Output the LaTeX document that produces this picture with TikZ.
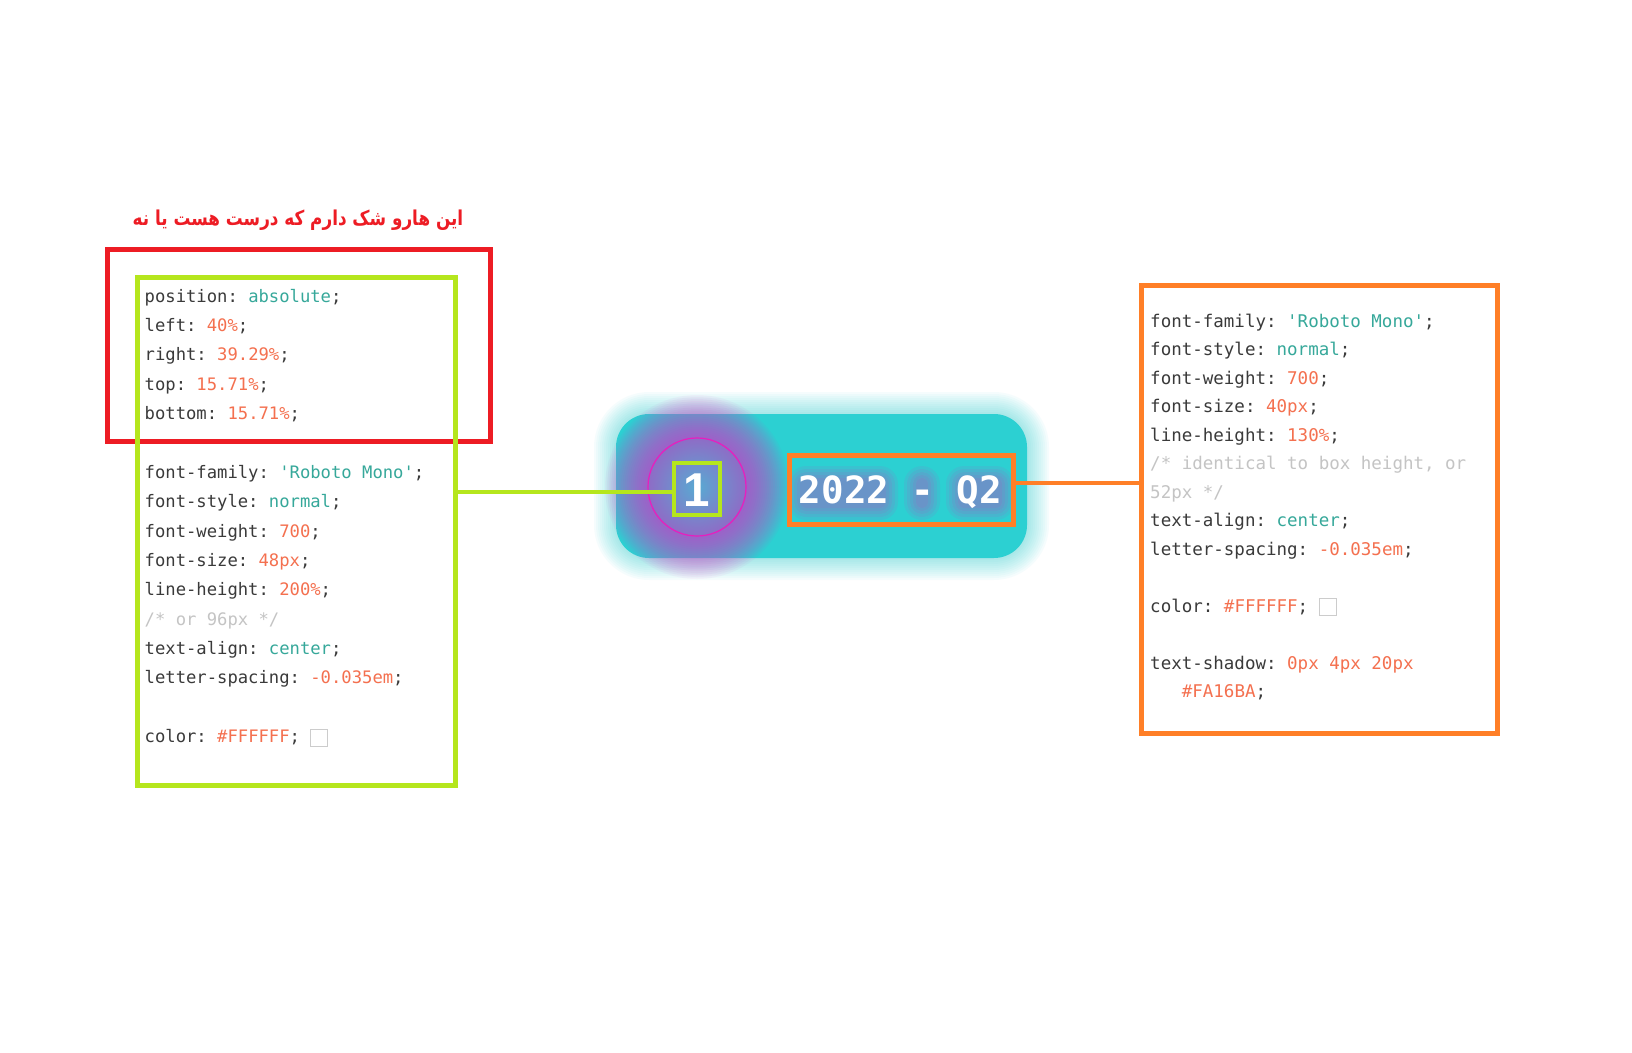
\documentclass[tikz,border=0pt]{standalone}
\usepackage{fontspec}
\setmonofont{DejaVu Sans Mono}
\newfontfamily\farsifont[Script=Arabic]{DejaVu Sans}
\newfontfamily\digitfont{Liberation Sans}
\TeXXeTstate=1
\usetikzlibrary{positioning}
\definecolor{paintred}{HTML}{ED1C24}
\definecolor{paintgreen}{HTML}{B5E61D}
\definecolor{paintorange}{HTML}{FF7F27}
\definecolor{cardteal}{HTML}{2CD0D2}
\definecolor{glowpink}{HTML}{D43CC8}
\definecolor{ringpink}{HTML}{E81EBE}
\definecolor{shadowpink}{HTML}{FA16BA}
\definecolor{badgein}{HTML}{58AAD2}
\definecolor{badgeout}{HTML}{8E6CC6}
\definecolor{cssdark}{HTML}{3A3A3A}
\definecolor{csskey}{HTML}{36A89A}
\definecolor{cssval}{HTML}{F4704F}
\definecolor{cssgray}{HTML}{C4C4C4}
\definecolor{swatchgray}{HTML}{CCCCCC}
\newcommand\cssp[1]{\textcolor{cssdark}{#1}}
\newcommand\cssk[1]{\textcolor{csskey}{#1}}
\newcommand\cssn[1]{\textcolor{cssval}{#1}}
\newcommand\cssc[1]{\textcolor{cssgray}{#1}}
\newcommand\swatch{{\setlength\fboxsep{0pt}\setlength\fboxrule{1pt}\fcolorbox{swatchgray}{white}{\rule[-3pt]{16pt}{0pt}\rule[-3pt]{0pt}{16pt}}}}
\tikzset{
  paintframe/.style={draw, line width=5pt, inner sep=0pt},
  codeL/.style={anchor=base west, inner sep=0pt, font=\ttfamily\fontsize{17.2}{20}\selectfont},
  codeR/.style={anchor=base west, inner sep=0pt, font=\ttfamily\fontsize{17.5}{20}\selectfont},
  yeartext/.style={anchor=base, inner sep=0pt, font=\ttfamily\bfseries\fontsize{37.5}{40}\selectfont},
}
\begin{document}
\begin{tikzpicture}[x=1pt,y=-1pt]
\fill[white] (0,0) rectangle (1632,1052);
\useasboundingbox (0,0) rectangle (1632,1052);

% left side
\node[text=paintred, font=\farsifont\bfseries\fontsize{20.5}{24}\selectfont] (doubt) at (298,220) {\scalebox{0.82}[1]{\beginR این هارو شک دارم که درست هست یا نه\endR}};
\node[paintframe, paintred, minimum width=383pt, minimum height=192pt] (redframe) at (298.5,345) {};
\node[paintframe, paintgreen, minimum width=318pt, minimum height=507.5pt] (greenframe) at (296.5,531.25) {};
\foreach \k/\codeline in {0/{\cssp{position:} \cssk{absolute}\cssp{;}},
    1/{\cssp{left:} \cssn{40\%}\cssp{;}}, 2/{\cssp{right:} \cssn{39.29\%}\cssp{;}},
    3/{\cssp{top:} \cssn{15.71\%}\cssp{;}}, 4/{\cssp{bottom:} \cssn{15.71\%}\cssp{;}},
    6/{\cssp{font-family:} \cssk{'Roboto Mono'}\cssp{;}}, 7/{\cssp{font-style:} \cssk{normal}\cssp{;}},
    8/{\cssp{font-weight:} \cssn{700}\cssp{;}}, 9/{\cssp{font-size:} \cssn{48px}\cssp{;}},
    10/{\cssp{line-height:} \cssn{200\%}\cssp{;}}, 11/{\cssc{/* or 96px */}},
    12/{\cssp{text-align:} \cssk{center}\cssp{;}}, 13/{\cssp{letter-spacing:} \cssn{-0.035em}\cssp{;}},
    15/{\cssp{color:} \cssn{\#FFFFFF}\cssp{;} \swatch}}
  \node[codeL] (left-\k) at (144.5,302+\k*29.38) {\codeline};

% the card
\foreach \g in {2,4,...,22}
  \fill[cardteal, fill opacity=.045, rounded corners={33+\g}] (616-\g,414-\g) rectangle (1027+\g,558+\g);
\node[fill=cardteal, rounded corners=33pt, inner sep=0pt, minimum width=411pt, minimum height=144pt] (card) at (821.5,486) {};
\foreach \r in {50,52,...,92}
  \fill[glowpink, fill opacity=.055] (697,487) circle (\r);
\node[circle, shade, inner color=badgein, outer color=badgeout, draw=ringpink, line width=1.2pt, inner sep=0pt, minimum size=98pt] (badge) at (697,487) {};
\node[text=white, anchor=base, inner sep=0pt, font=\digitfont\bfseries\fontsize{47.5}{48}\selectfont] (one) at (697,506) {1};
\node[paintframe, paintgreen, line width=4.5pt, minimum width=46pt, minimum height=52pt] (onebox) at (697,489) {};
% text shadow under the year
\foreach \cx/\w in {843/86, 922/12, 980/44} \foreach \g in {0,3,...,12}
  \fill[shadowpink, fill opacity=.07, rounded corners={6+\g}] (\cx-\w/2-\g,478-\g) rectangle (\cx+\w/2+\g,508+\g);
\node[yeartext, text=white] (year) at (900.5,503) {2022 - Q2};
\node[paintframe, paintorange, minimum width=224pt, minimum height=69pt] (yearbox) at (901.5,490) {};

% right side
\node[paintframe, paintorange, minimum width=356pt, minimum height=448pt] (orangeframe) at (1319.5,509.5) {};
\foreach \k/\codeline in {0/{\cssp{font-family:} \cssk{'Roboto Mono'}\cssp{;}},
    1/{\cssp{font-style:} \cssk{normal}\cssp{;}}, 2/{\cssp{font-weight:} \cssn{700}\cssp{;}},
    3/{\cssp{font-size:} \cssn{40px}\cssp{;}}, 4/{\cssp{line-height:} \cssn{130\%}\cssp{;}},
    5/{\cssc{/* identical to box height, or}}, 6/{\cssc{52px */}},
    7/{\cssp{text-align:} \cssk{center}\cssp{;}}, 8/{\cssp{letter-spacing:} \cssn{-0.035em}\cssp{;}},
    10/{\cssp{color:} \cssn{\#FFFFFF}\cssp{;} \swatch},
    12/{\cssp{text-shadow:} \cssn{0px 4px 20px}}, 13/{\phantom{xxx}\cssn{\#FA16BA}\cssp{;}}}
  \node[codeR] (right-\k) at (1150,327+\k*28.5) {\codeline};

\draw[paintgreen, line width=4.5pt] ([yshift=-3pt]onebox.west) -- ([yshift=-3pt]onebox.west -| greenframe.east);
\draw[paintorange, line width=4.5pt, line cap=round] ([yshift=7pt]yearbox.east) -- ([yshift=7pt]yearbox.east -| orangeframe.west);
\end{tikzpicture}
\end{document}
